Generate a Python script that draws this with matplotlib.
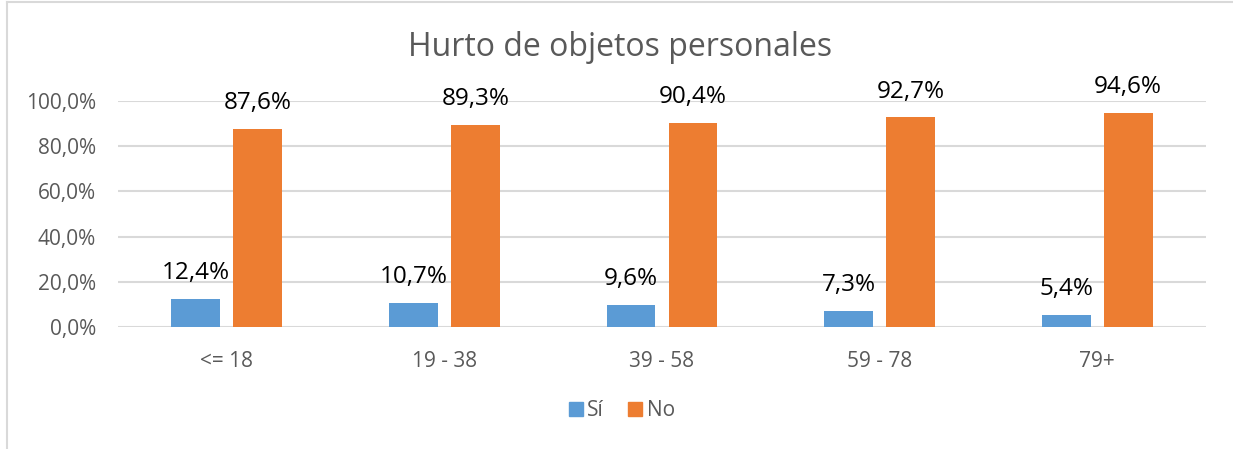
import numpy as np
import matplotlib.pyplot as plt
from matplotlib.lines import Line2D

# data
categories = ['<= 18', '19 - 38', '39 - 58', '59 - 78', '79+']
si_values = [12.4, 10.7, 9.6, 7.3, 5.4]
no_values = [87.6, 89.3, 90.4, 92.7, 94.6]
series_names = ['Sí', 'No']

BLUE = '#5b9bd5'
ORANGE = '#ed7d31'
GRID = '#d9d9d9'
TEXT = '#595959'

plt.rcParams['font.family'] = ['Open Sans', 'DejaVu Sans']

fig = plt.figure(figsize=(12.33, 4.49), dpi=100)
ax = fig.add_axes([118 / 1233, 1 - 327 / 449, 1088 / 1233, 226 / 449])

x = np.arange(len(categories))
w = 0.225
off = 0.1425
b1 = ax.bar(x - off, si_values, w, color=BLUE, label=series_names[0], zorder=3)
b2 = ax.bar(x + off, no_values, w, color=ORANGE, label=series_names[1], zorder=3)

for bars, vals in ((b1, si_values), (b2, no_values)):
    for rect, v in zip(bars, vals):
        ax.annotate(f'{v:.1f}%'.replace('.', ','),
                    (rect.get_x() + rect.get_width() / 2, v),
                    xytext=(0, 10), textcoords='offset points',
                    ha='center', va='bottom', fontsize=17.5, color='black',
                    annotation_clip=False)

ax.set_xlim(-0.5, len(categories) - 0.5)
ax.set_ylim(0, 100)
yt = np.arange(0, 101, 20)
ax.set_yticks(yt)
ax.set_yticklabels([f'{t:.1f}%'.replace('.', ',') for t in yt])
ax.set_xticks(x)
ax.set_xticklabels(categories)
ax.tick_params(axis='both', length=0, labelsize=15, labelcolor=TEXT)
ax.tick_params(axis='x', pad=17)
ax.tick_params(axis='y', pad=16)
ax.yaxis.grid(True, color=GRID, lw=1.5, zorder=0)
ax.set_axisbelow(True)
for s in ax.spines.values():
    s.set_visible(False)

fig.text(620 / 1233, 1 - 47 / 449, 'Hurto de objetos personales',
         ha='center', va='center', fontsize=23, color=TEXT)

handles = [Line2D([], [], marker='s', ls='', color=BLUE, markersize=10),
           Line2D([], [], marker='s', ls='', color=ORANGE, markersize=10)]
fig.legend(handles, series_names, loc='center', bbox_to_anchor=(620 / 1233, 1 - 411 / 449),
           ncol=2, frameon=False, fontsize=15, labelcolor=TEXT,
           handletextpad=0.05, columnspacing=1.0, handlelength=1.0)

# chart border (left and top edges visible)
fig.add_artist(Line2D([7 / 1233, 7 / 1233], [0, 1 - 2 / 449], color=GRID, lw=1.5))
fig.add_artist(Line2D([7 / 1233, 1], [1 - 2 / 449, 1 - 2 / 449], color=GRID, lw=1.5))

fig.savefig('out.png', dpi=100)
